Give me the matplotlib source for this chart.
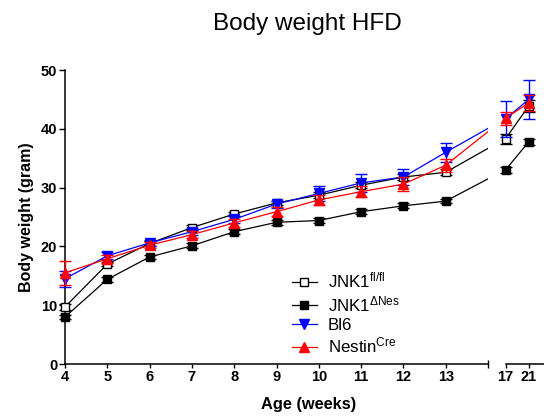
import matplotlib
matplotlib.use("Agg")
import matplotlib.pyplot as plt
from matplotlib.lines import Line2D
import numpy as np

# === data ===
weeks = [4, 5, 6, 7, 8, 9, 10, 11, 12, 13, 17, 21]
flfl = [9.7, 17.0, 20.5, 23.2, 25.5, 27.4, 28.7, 30.4, 31.8, 32.6, 38.3, 43.9]
flfl_err = [0.5, 0.4, 0.4, 0.4, 0.4, 0.4, 0.5, 0.5, 0.5, 0.5, 0.8, 1.0]
dnes = [8.0, 14.4, 18.2, 20.1, 22.5, 24.1, 24.4, 25.9, 26.9, 27.7, 33.0, 37.8]
dnes_err = [0.4, 0.4, 0.4, 0.4, 0.4, 0.4, 0.4, 0.4, 0.4, 0.4, 0.5, 0.5]
bl6 = [14.5, 18.4, 20.6, 22.5, 24.6, 27.2, 29.0, 30.8, 31.8, 36.0, 41.7, 45.0]
bl6_err = [1.4, 0.6, 0.5, 0.6, 0.6, 0.6, 1.3, 1.5, 1.3, 1.6, 3.1, 3.3]
nestin = [15.5, 17.9, 20.2, 22.0, 24.0, 25.9, 27.9, 29.3, 30.6, 33.8, 41.8, 44.4]
nestin_err = [2.1, 0.7, 0.5, 0.6, 0.7, 0.8, 0.9, 0.9, 1.2, 1.1, 1.1, 1.3]

labels = [r"JNK1$^{\mathregular{fl/fl}}$", r"JNK1$^{\mathregular{ΔNes}}$",
          "Bl6", r"Nestin$^{\mathregular{Cre}}$"]

plt.rcParams["font.family"] = ["Liberation Sans", "DejaVu Sans"]
plt.rcParams["mathtext.default"] = "regular"


# broken x axis: weeks up to 13 linear, later weeks squeezed after the gap
def xpos(w):
    w = np.asarray(w, dtype=float)
    return np.where(w <= 13, w, 14.4 + (w - 17) * 0.1375)


xp = xpos(weeks)
n_left = 10

fig = plt.figure(figsize=(5.44, 4.17), dpi=100)
ax = fig.add_axes([65 / 544, 53 / 417, 423 / 544, 294 / 417])
ax2 = fig.add_axes([505.5 / 544, 53 / 417, 38.5 / 544, 294 / 417])
ax2.patch.set_alpha(0)

series = [
    (flfl, flfl_err, "black", "s", "white", 6),
    (dnes, dnes_err, "black", "s", "black", 6),
    (bl6, bl6_err, "#0000ff", "v", "#0000ff", 6.5),
    (nestin, nestin_err, "#ff0000", "^", "#ff0000", 6.5),
]

handles = []
for i, (vals, err, col, mk, fc, ms) in enumerate(series):
    vals = np.array(vals)
    err = np.array(err)
    z = 3 + i
    for a, sl in ((ax, slice(0, n_left)), (ax2, slice(n_left, None))):
        a.plot(xp, vals, color=col, lw=0.9, zorder=z)
        eb = a.errorbar(xp[sl], vals[sl], yerr=err[sl], fmt=mk, ms=ms,
                        mfc=fc, mec=col if fc != "white" else "black",
                        mew=1.0, color=col, ecolor=col, elinewidth=1.0,
                        capsize=4, capthick=1.0, ls="none", zorder=z)
        for art in eb.get_children():
            art.set_clip_on(False)
    handles.append(Line2D([], [], color=col, lw=0.9, marker=mk, ms=ms,
                          mfc=fc, mec=col if fc != "white" else "black", mew=1.0))

for a in (ax, ax2):
    a.set_ylim(0, 50)
    a.spines["top"].set_visible(False)
    a.spines["right"].set_visible(False)
    a.spines["bottom"].set_linewidth(1.1)
    a.spines["left"].set_linewidth(1.1)
    a.tick_params(axis="x", length=3, width=1.0, pad=1)

tick_fs = 10.5
ax.set_xlim(4, 14)
ax.set_xticks(weeks[:n_left])
ax.set_xticklabels([str(w) for w in weeks[:n_left]], fontweight="bold", fontsize=tick_fs)
ax.set_xticks([14], minor=True)
ax.tick_params(axis="x", which="minor", direction="inout", length=6, width=1.0)
ax.set_yticks([0, 10, 20, 30, 40, 50])
ax.set_yticklabels(["0", "10", "20", "30", "40", "50"], fontweight="bold", fontsize=tick_fs)
ax.tick_params(axis="y", length=4.5, width=1.0, pad=1)

ax2.set_xlim(14.4, 15.31)
ax2.spines["left"].set_visible(False)
ax2.set_yticks([])
ax2.set_xticks(xp[n_left:])
ax2.set_xticklabels([str(w) for w in weeks[n_left:]], fontweight="bold", fontsize=tick_fs)
ax2.set_xticks([xp[n_left]], minor=True)
ax2.tick_params(axis="x", which="minor", direction="inout", length=6, width=1.0)

ax.set_ylabel("Body weight (gram)", fontweight="bold", fontsize=11.5, labelpad=5)
fig.text(309 / 544, 1 - 405 / 417, "Age (weeks)", fontweight="bold", fontsize=11.8,
         ha="center", va="center")
fig.text(307 / 544, 1 - 24 / 417, "Body weight HFD", fontsize=17.5, ha="center", va="center")

fig.legend(handles, labels, loc="upper left", bbox_to_anchor=(292 / 544, 1 - 271 / 417),
           frameon=False, fontsize=12.2, handlelength=1.45, handletextpad=0.65,
           labelspacing=0.2, borderpad=0, borderaxespad=0)

fig.savefig("out.png", dpi=100)
